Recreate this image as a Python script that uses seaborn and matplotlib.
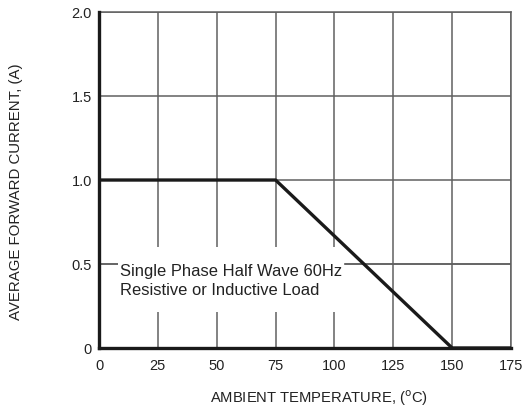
import matplotlib
matplotlib.use("Agg")
import matplotlib.pyplot as plt
import matplotlib.patches as mpatches
import seaborn as sns
import pandas as pd

temperature = [0, 75, 150, 175]
current = [1.0, 1.0, 0.0, 0.0]
x_ticks = [0, 25, 50, 75, 100, 125, 150, 175]
y_ticks = [0, 0.5, 1.0, 1.5, 2.0]
y_tick_labels = ["0", "0.5", "1.0", "1.5", "2.0"]
note = "Single Phase Half Wave 60Hz\nResistive or Inductive Load"

sns.set_theme(style="white")
plt.rcParams['font.family'] = ['Liberation Sans', 'DejaVu Sans']

fig = plt.figure(figsize=(5.23, 4.12), dpi=100)
ax = fig.add_axes([0.1893, 0.1553, 0.7878, 0.8155])

df = pd.DataFrame({"t": temperature, "i": current})
sns.lineplot(data=df, x="t", y="i", ax=ax, color="#1a1a1a", linewidth=2.4, zorder=4)

ax.set_xlim(0, 175)
ax.set_ylim(0, 2.0)
ax.set_xticks(x_ticks)
ax.set_yticks(y_ticks)
ax.set_yticklabels(y_tick_labels)
for lab in ax.get_xticklabels() + ax.get_yticklabels():
    lab.set_fontsize(10.5)
    lab.set_color("#222222")
ax.tick_params(axis='x', length=0, pad=8)
ax.tick_params(axis='y', length=0, pad=5)
ax.grid(True, color="#606060", linewidth=1.1, zorder=1)

# white panel behind the note interrupting vertical gridlines
ax.add_patch(mpatches.Rectangle((8.1, 0.214), 96.4, 0.387, facecolor="white",
                                edgecolor="none", zorder=2, transform=ax.transData))
ax.axhline(0.5, color="#606060", linewidth=1.1, zorder=2.5)

for side in ["left", "bottom"]:
    ax.spines[side].set_color("#1a1a1a")
    ax.spines[side].set_linewidth(2.4)
    ax.spines[side].set_zorder(5)
for side in ["right", "top"]:
    ax.spines[side].set_color("#606060")
    ax.spines[side].set_linewidth(1.1)

ax.set_xlabel("AMBIENT TEMPERATURE, ($^{\\rm o}$C)", fontsize=10.6, color="#222222")
ax.xaxis.set_label_coords(0.535, -0.121)
ax.set_ylabel("AVERAGE FORWARD CURRENT, (A)", fontsize=10.8, color="#222222")
ax.yaxis.set_label_coords(-0.184, 0.464)

ax.text(9.0, 0.40, note,
        fontsize=11.9, color="#222222", ha="left", va="center", linespacing=1.38,
        transform=ax.transData, zorder=3,
        bbox=dict(facecolor="white", edgecolor="none", pad=1.5))

fig.savefig("out.png", dpi=100)
